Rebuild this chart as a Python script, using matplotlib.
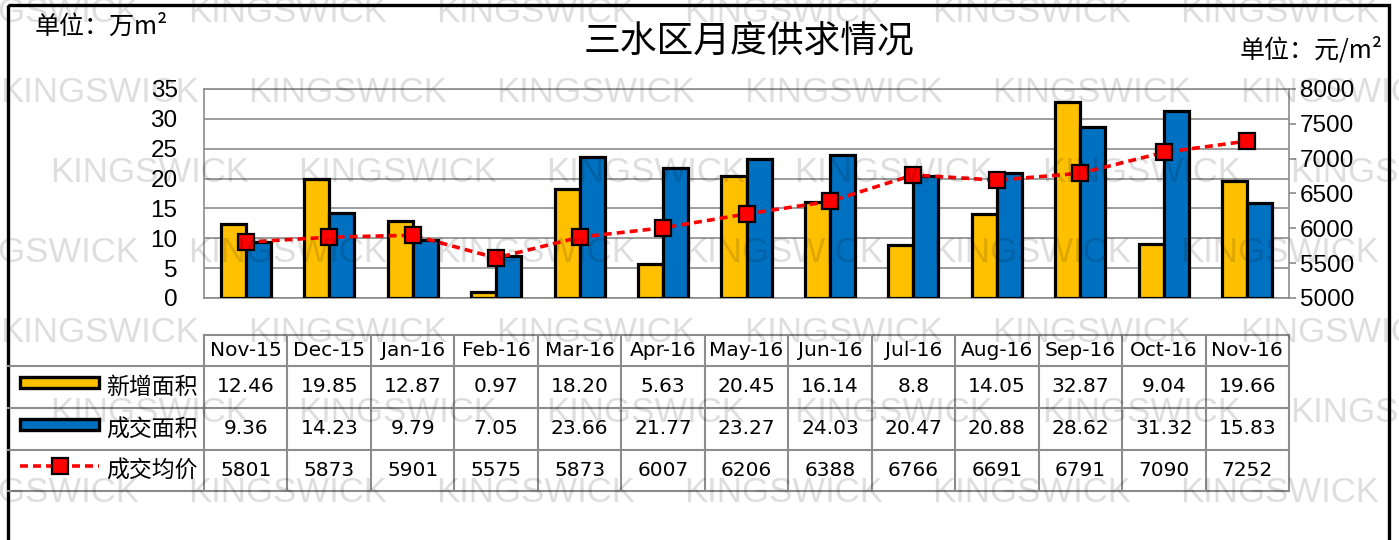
import numpy as np
import matplotlib
matplotlib.use('Agg')
import matplotlib.pyplot as plt
from matplotlib.patches import Rectangle
from matplotlib.lines import Line2D
from matplotlib.transforms import blended_transform_factory

# data (values as printed in the table)
months = ['Nov-15', 'Dec-15', 'Jan-16', 'Feb-16', 'Mar-16', 'Apr-16', 'May-16',
          'Jun-16', 'Jul-16', 'Aug-16', 'Sep-16', 'Oct-16', 'Nov-16']
new_area_txt = ['12.46', '19.85', '12.87', '0.97', '18.20', '5.63', '20.45',
                '16.14', '8.8', '14.05', '32.87', '9.04', '19.66']
deal_area_txt = ['9.36', '14.23', '9.79', '7.05', '23.66', '21.77', '23.27',
                 '24.03', '20.47', '20.88', '28.62', '31.32', '15.83']
avg_price = [5801, 5873, 5901, 5575, 5873, 6007, 6206, 6388, 6766, 6691, 6791, 7090, 7252]
series_names = ['新增面积', '成交面积', '成交均价']

new_area = [float(v) for v in new_area_txt]
deal_area = [float(v) for v in deal_area_txt]

YELLOW = '#FFC000'
BLUE = '#0070C0'
GRID = '#8c8c8c'
CJK = ['Noto Sans CJK SC', 'DejaVu Sans']
NUM = 'Liberation Sans'
TAB = 'DejaVu Sans'

W, H = 1399, 540
fig = plt.figure(figsize=(W / 100, H / 100), dpi=100)

# main plot area (pixel box 204..1289 x 89..298)
ax = fig.add_axes([204 / W, 1 - 298 / H, 1085 / W, 209 / H])
x = np.arange(len(months))
bw = 0.3
ax.bar(x - bw / 2, new_area, bw, color=YELLOW, edgecolor='black', linewidth=2.3, zorder=3)
ax.bar(x + bw / 2, deal_area, bw, color=BLUE, edgecolor='black', linewidth=2.3, zorder=3)
ax.set_xlim(-0.5, len(months) - 0.5)
ax.set_ylim(0, 35)
ax.set_yticks(range(0, 36, 5))
ax.set_xticks([])
ax.yaxis.grid(True, color=GRID, linewidth=1.2, zorder=0)
ax.set_axisbelow(True)
for s in ax.spines.values():
    s.set_color(GRID)
    s.set_linewidth(1.2)
ax.tick_params(axis='y', length=0, pad=19, labelsize=17.5)
for t in ax.get_yticklabels():
    t.set_fontfamily(NUM)

ax2 = ax.twinx()
ax2.plot(x, avg_price, color='red', linestyle=(0, (2.2, 1.4)), linewidth=2.6,
         marker='s', markersize=12, markerfacecolor='red', markeredgecolor='black',
         markeredgewidth=1.6, zorder=5)
ax2.set_ylim(5000, 8000)
ax2.set_yticks(range(5000, 8001, 500))
ax2.tick_params(axis='y', length=5, width=1.2, color=GRID, pad=3, labelsize=17.5)
for t in ax2.get_yticklabels():
    t.set_fontfamily(NUM)
for s in ax2.spines.values():
    s.set_visible(False)

# overlay in pixel coordinates for table, labels, frame and watermark
ov = fig.add_axes([0, 0, 1, 1])
ov.set_xlim(0, W)
ov.set_ylim(H, 0)
ov.axis('off')
ov.patch.set_visible(False)
colx = blended_transform_factory(ax.transData, ov.transData)

# table grid
row_y = [335, 366, 408, 450, 491]
left_px = 8
ov.plot([204, 1289], [row_y[0], row_y[0]], color=GRID, lw=1.5)
for yy in row_y[1:]:
    ov.plot([left_px, 1289], [yy, yy], color=GRID, lw=1.5)
for b in np.arange(-0.5, len(months), 1.0):
    ov.plot([b, b], [row_y[0], row_y[-1]], color=GRID, lw=1.5, transform=colx)

# table texts
rows = [months, new_area_txt, deal_area_txt, [str(v) for v in avg_price]]
for r, vals in enumerate(rows):
    yc = (row_y[r] + row_y[r + 1]) / 2
    for i, v in enumerate(vals):
        ov.text(i, yc, v, transform=colx, ha='center', va='center',
                fontsize=14.5, fontfamily=TAB, color='black')

# legend keys in the first column
for r, name in enumerate(series_names):
    yc = (row_y[r + 1] + row_y[r + 2]) / 2
    ov.text(106, yc + 1, name, ha='left', va='center', fontsize=16.5, fontfamily=CJK)
ov.add_patch(Rectangle((20, 377), 79, 11, facecolor=YELLOW, edgecolor='black', lw=2.4))
ov.add_patch(Rectangle((20, 419), 79, 11, facecolor=BLUE, edgecolor='black', lw=2.4))
ov.add_line(Line2D([20, 99], [466, 466], color='red', linestyle=(0, (2.2, 1.4)), lw=2.6))
ov.add_line(Line2D([59.5], [466], marker='s', markersize=12, markerfacecolor='red',
                   markeredgecolor='black', markeredgewidth=1.6, linestyle='none'))

# titles and units
ov.text(749, 42, '三水区月度供求情况', ha='center', va='center', fontsize=26.5, fontfamily=CJK)
ov.text(35, 27, '单位：万m²', ha='left', va='center', fontsize=18, fontfamily=CJK)
ov.text(1383, 50, '单位：元/m²', ha='right', va='center', fontsize=18, fontfamily=CJK)

# outer frame
ov.add_patch(Rectangle((8, 5), 1381, 560, facecolor='none', edgecolor='black', lw=2.4,
                       clip_on=False))

# watermark
wm_rows = [12, 92, 172, 252, 332, 412, 492]
wm_offsets = [-60, 0, 50]
for k, yy in enumerate(wm_rows):
    x0 = wm_offsets[k % 3]
    while x0 < W:
        ov.text(x0, yy, 'KINGSWICK', ha='left', va='center', fontsize=25,
                fontfamily=NUM, color='black', alpha=0.13, zorder=10)
        x0 += 248

fig.savefig('out.png', dpi=100)
